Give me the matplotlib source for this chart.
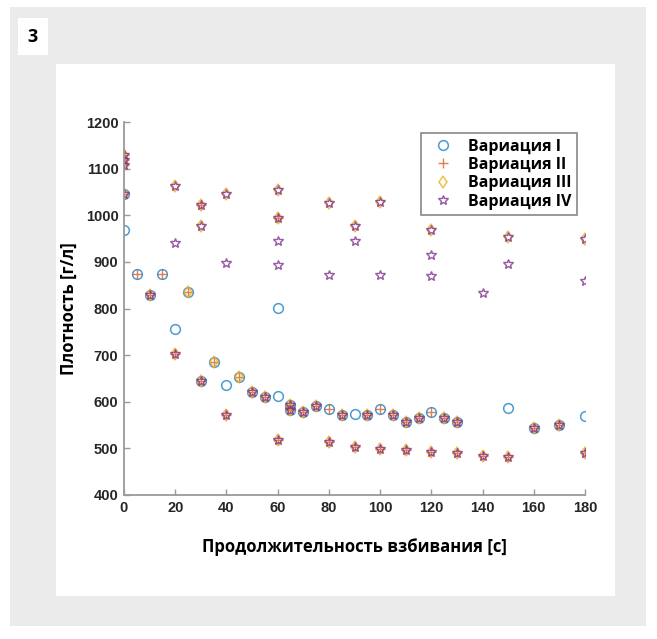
import matplotlib.pyplot as plt
from matplotlib.patches import Rectangle

# Variation I (circles)
t1 = [0, 0, 5, 10, 15, 20, 25, 30, 35, 40, 45, 50, 55, 60, 60, 65, 65, 70, 75, 80,
      85, 90, 95, 100, 105, 110, 115, 120, 125, 130, 150, 160, 170, 180]
v1 = [1045, 968, 875, 828, 875, 756, 836, 645, 685, 636, 653, 621, 610, 801, 612, 593, 582, 578, 591, 585,
      572, 574, 571, 584, 572, 557, 566, 578, 565, 557, 587, 544, 550, 569]

# Variation II (plus)
t2 = [0, 0, 0, 0, 30, 60,
      5, 10, 15, 20, 25, 30, 35, 40, 45, 50, 55, 60, 65, 65, 70, 75, 80, 80,
      85, 90, 95, 100, 100, 105, 110, 110, 115, 120, 120, 125, 130, 130, 140, 150, 160, 170, 180]
v2 = [1130, 1118, 1108, 1045, 1022, 994,
      875, 828, 875, 702, 836, 645, 685, 572, 653, 621, 610, 518, 593, 582, 578, 591, 585, 513,
      572, 503, 571, 584, 499, 572, 557, 497, 566, 578, 492, 565, 557, 490, 484, 482, 544, 550, 490]

# Variation III (diamonds)
t3 = [0, 0, 0, 0, 20, 30, 30, 40, 60, 60, 80, 90, 100, 120, 150, 180,
      10, 20, 25, 30, 35, 40, 45, 50, 55, 60, 65, 65, 70, 75, 80,
      85, 90, 95, 100, 105, 110, 110, 115, 120, 125, 130, 130, 140, 150, 160, 170, 180]
v3 = [1130, 1118, 1108, 1045, 1063, 1022, 977, 1045, 1054, 994, 1026, 977, 1028, 968, 953, 948,
      828, 702, 836, 645, 685, 572, 653, 621, 610, 518, 593, 582, 578, 591, 513,
      572, 503, 571, 499, 572, 557, 497, 566, 492, 565, 557, 490, 484, 482, 544, 550, 490]

# Variation IV (stars)
t4 = [0, 0, 0, 0, 20, 30, 30, 40, 60, 60, 80, 90, 100, 120, 150, 180,
      20, 40, 60, 60, 80, 90, 100, 120, 120, 140, 150, 180,
      10, 20, 30, 40, 50, 55, 60, 65, 65, 70, 75, 80,
      85, 90, 95, 100, 105, 110, 110, 115, 120, 125, 130, 130, 140, 150, 160, 170, 180]
v4 = [1130, 1118, 1108, 1045, 1063, 1022, 977, 1045, 1054, 994, 1026, 977, 1028, 968, 953, 948,
      940, 897, 945, 893, 872, 945, 872, 915, 870, 833, 895, 860,
      828, 702, 645, 572, 621, 610, 518, 593, 582, 578, 591, 513,
      572, 503, 571, 499, 572, 557, 497, 566, 492, 565, 557, 490, 484, 482, 544, 550, 490]

labels = ['Вариация I', 'Вариация II', 'Вариация III', 'Вариация IV']
xticks = [0, 20, 40, 60, 80, 100, 120, 140, 160, 180]
yticks = [400, 500, 600, 700, 800, 900, 1000, 1100, 1200]

TXT = ['Open Sans', 'DejaVu Sans']

fig = plt.figure(figsize=(6.57, 6.39), dpi=100)
fig.patch.set_facecolor('white')

W, H = 657, 639
def px_rect(x0, y0, x1, y1, color):
    fig.patches.append(Rectangle((x0 / W, 1 - y1 / H), (x1 - x0) / W, (y1 - y0) / H,
                                 transform=fig.transFigure, facecolor=color,
                                 edgecolor='none', zorder=-10))

px_rect(10, 7, 646, 626, '#ebebeb')
px_rect(56, 64, 615, 596, 'white')
px_rect(18, 18, 48, 55, 'white')
fig.text(33 / W, 1 - 37 / H, '3', ha='center', va='center', fontsize=13,
         fontweight='bold', family=TXT)

ax = fig.add_axes([124 / W, 1 - 495 / H, 461 / W, 373 / H])
ax.set_facecolor('none')

ax.plot(t1, v1, 'o', ls='none', ms=7, mfc='none', mec='#0072BD', mew=1.1, alpha=0.7, label=labels[0])
ax.plot(t2, v2, '+', ls='none', ms=7, mec='#D95319', mew=1.0, alpha=0.75, label=labels[1])
ax.plot(t3, v3, 'd', ls='none', ms=6.5, mfc='none', mec='#EDB120', mew=1.1, alpha=0.8, label=labels[2])
ax.plot(t4, v4, '*', ls='none', ms=7.5, mfc='none', mec='#7E2F8E', mew=1.0, alpha=0.8, label=labels[3])

ax.set_xlim(0, 180)
ax.set_ylim(400, 1200)
ax.set_xticks(xticks)
ax.set_yticks(yticks)
for s in ['top', 'right']:
    ax.spines[s].set_visible(False)
for s in ['left', 'bottom']:
    ax.spines[s].set_color('#9a9a9a')
    ax.spines[s].set_linewidth(1.3)
ax.tick_params(direction='in', length=4, width=1, color='#9a9a9a', labelcolor='#262626', pad=4)
for lab in ax.get_xticklabels() + ax.get_yticklabels():
    lab.set_family('Liberation Sans')
    lab.set_fontweight('bold')
    lab.set_fontsize(10.5)

ax.set_xlabel('Продолжительность взбивания [c]', fontsize=12, fontweight='bold',
              family=TXT, labelpad=17)
ax.set_ylabel('Плотность [г/л]', fontsize=12, fontweight='bold',
              family=TXT, labelpad=6)

leg = ax.legend(loc='upper left', bbox_to_anchor=((421 - 124) / 461, 1 - (133 - 122) / 373),
                prop={'family': TXT, 'weight': 'bold', 'size': 11.5},
                frameon=True, fancybox=False, edgecolor='#888888', framealpha=1,
                labelspacing=0.15, handletextpad=0.6, borderpad=0.35, handlelength=2.0,
                borderaxespad=0)
leg.get_frame().set_linewidth(1.2)

fig.savefig('out.png', dpi=100)
